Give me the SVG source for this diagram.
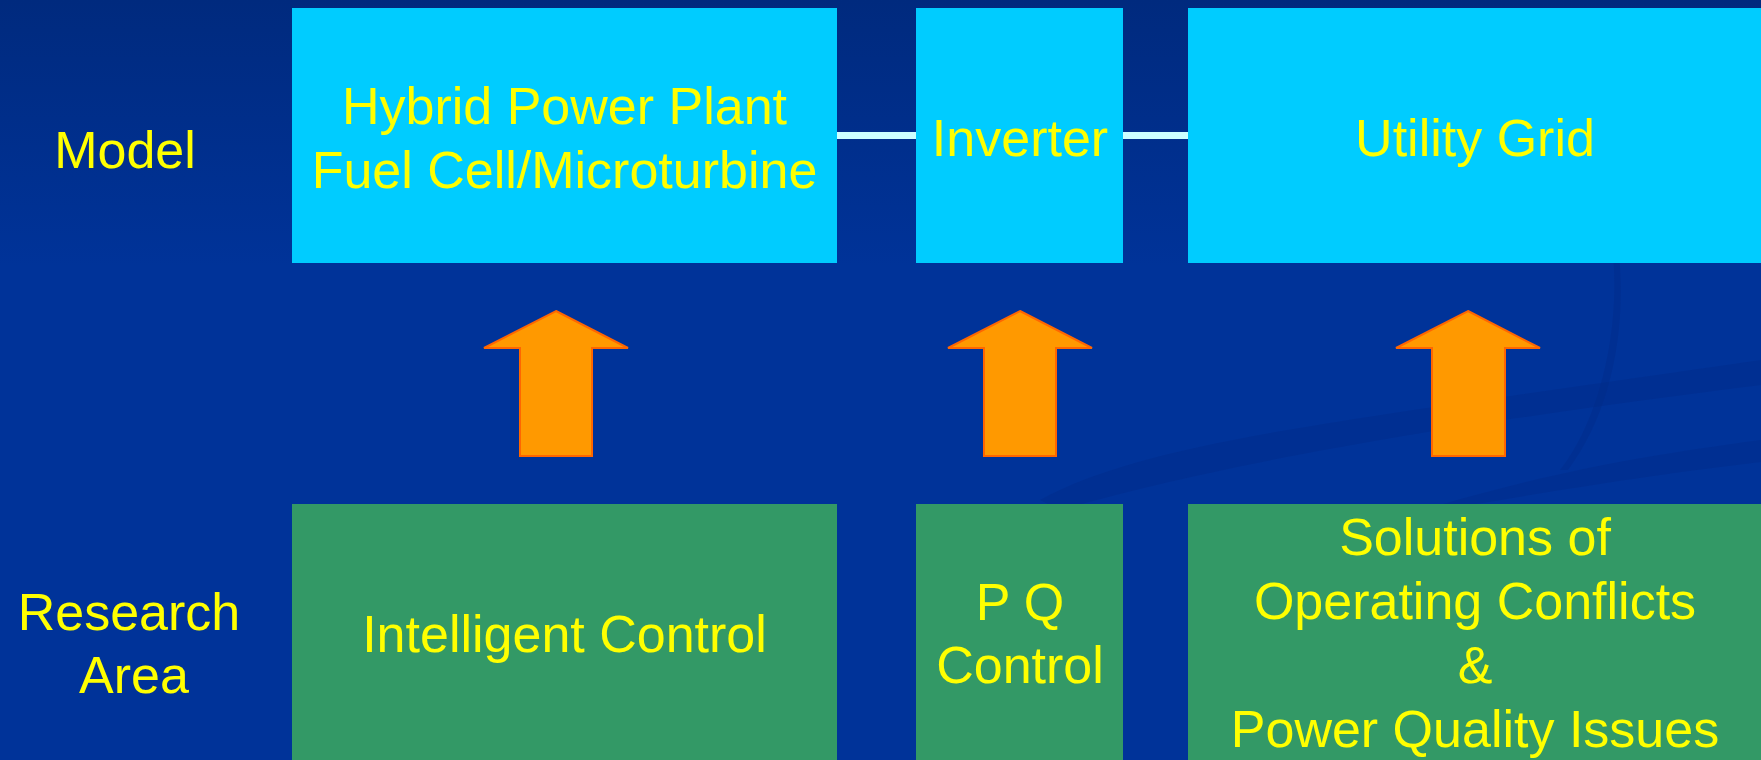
<svg xmlns="http://www.w3.org/2000/svg" width="1761" height="760" viewBox="0 0 1761 760">
  <defs>
    <linearGradient id="bg" x1="0" y1="0" x2="0" y2="1">
      <stop offset="0" stop-color="#002a7e"/>
      <stop offset="0.35" stop-color="#003399"/>
      <stop offset="1" stop-color="#003399"/>
    </linearGradient>
    <style>
      .top { fill: #00ccff; }
      .bot { fill: #339966; }
      .t { font-family: "Liberation Sans", Arial, sans-serif; font-size: 52px; fill: #ffff00; text-anchor: middle; }
      .arrow { fill: #ff9900; stroke: #ff6600; stroke-width: 2; stroke-linejoin: miter; }
      .link { stroke: #ccffff; stroke-width: 7; fill: none; }
      .swoosh { fill: #002a88; opacity: 0.4; }
    </style>
  </defs>
  <rect width="1761" height="760" fill="url(#bg)"/>
  <path class="swoosh" d="M1040,500 C1150,440 1350,420 1761,360 L1761,385 C1400,430 1200,470 1060,510 Z"/>
  <path class="swoosh" d="M1440,505 C1560,470 1650,455 1761,440 L1761,462 C1650,475 1560,490 1470,505 Z"/>
  <path class="swoosh" d="M1610,230 C1625,320 1600,420 1560,470 L1568,470 C1613,410 1630,320 1616,230 Z"/>

  <g id="connectors">
    <line class="link" x1="837" y1="135.5" x2="916" y2="135.5"/>
    <line class="link" x1="1123" y1="135.5" x2="1188" y2="135.5"/>
    <polygon class="arrow" points="556,311 628,348 592,348 592,456 520,456 520,348 484,348"/>
    <polygon class="arrow" points="1020,311 1092,348 1056,348 1056,456 984,456 984,348 948,348"/>
    <polygon class="arrow" points="1468,311 1540,348 1505,348 1505,456 1432,456 1432,348 1396,348"/>
  </g>

  <g id="label-model">
    <text class="t" x="125" y="168">Model</text>
  </g>
  <g id="label-research">
    <text class="t" x="129" y="630">Research</text>
    <text class="t" x="134" y="693">Area</text>
  </g>

  <g id="hybrid">
    <rect class="top" x="292" y="8" width="545" height="255"/>
    <text class="t" x="564.5" y="124">Hybrid Power Plant</text>
    <text class="t" x="564.5" y="188">Fuel Cell/Microturbine</text>
  </g>
  <g id="inverter">
    <rect class="top" x="916" y="8" width="207" height="255"/>
    <text class="t" x="1020" y="156">Inverter</text>
  </g>
  <g id="utility">
    <rect class="top" x="1188" y="8" width="573" height="255"/>
    <text class="t" x="1475" y="156">Utility Grid</text>
  </g>

  <g id="intelligent">
    <rect class="bot" x="292" y="504" width="545" height="256"/>
    <text class="t" x="564.5" y="652">Intelligent Control</text>
  </g>
  <g id="pq">
    <rect class="bot" x="916" y="504" width="207" height="256"/>
    <text class="t" x="1020" y="620">P Q</text>
    <text class="t" x="1020" y="683">Control</text>
  </g>
  <g id="solutions">
    <rect class="bot" x="1188" y="504" width="573" height="256"/>
    <text class="t" x="1475" y="555">Solutions of</text>
    <text class="t" x="1475" y="619">Operating Conflicts</text>
    <text class="t" x="1475" y="683">&amp;</text>
    <text class="t" x="1475" y="747">Power Quality Issues</text>
  </g>
</svg>
